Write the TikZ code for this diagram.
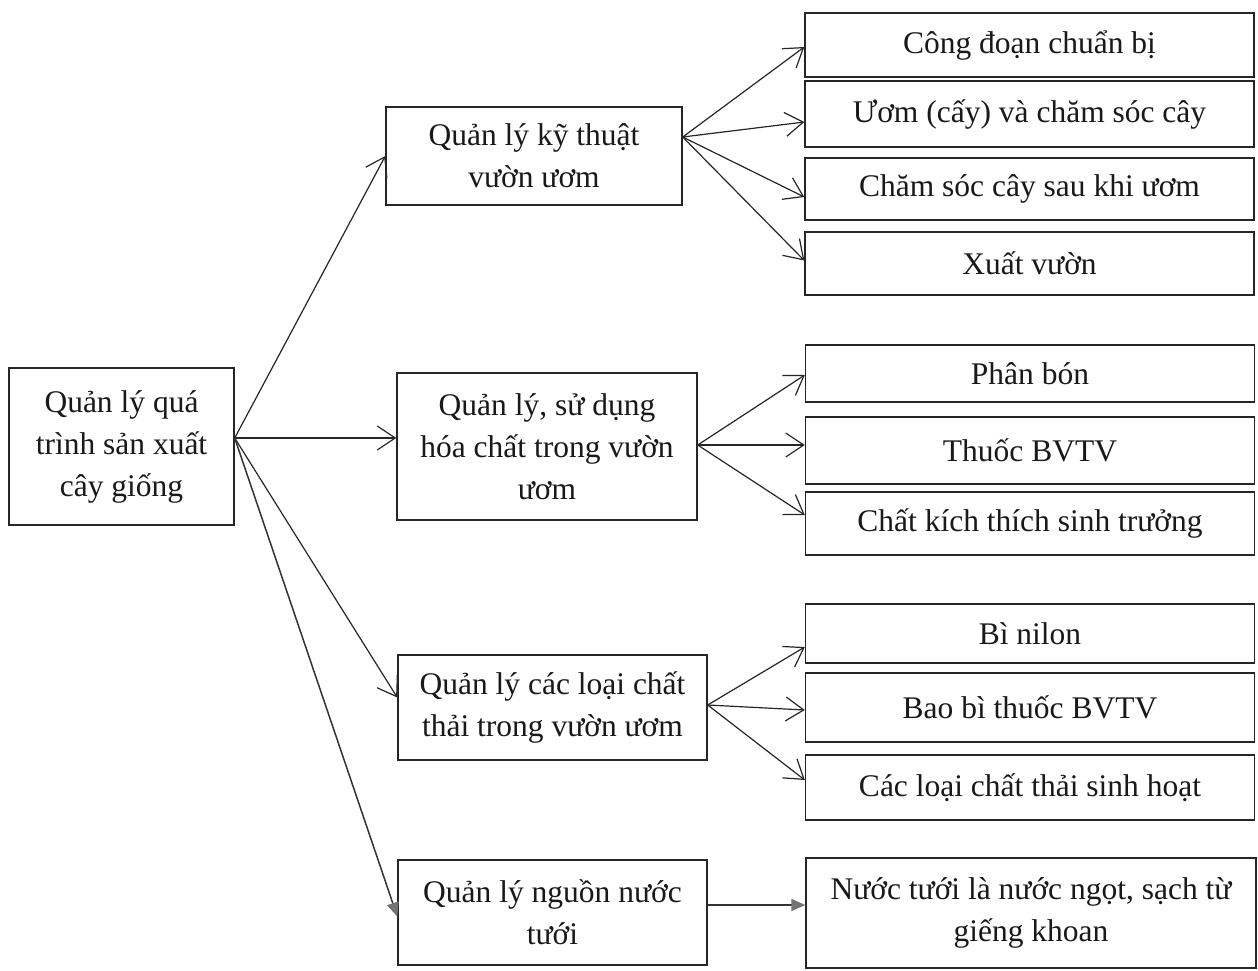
\documentclass[tikz,border=0pt]{standalone}
\usepackage{fontspec}
\setmainfont{Liberation Serif}
\usetikzlibrary{arrows.meta,calc}
\begin{document}
\begin{tikzpicture}[x=1pt,y=-1pt,
  box/.style={draw=black!85, line width=1.4pt, align=center, inner sep=0pt,
    font=\fontsize{31.5}{42}\selectfont, text=black!90},
  leaf/.style={box, minimum width=449pt},
  arr/.style={line width=1.2pt, draw=black!85,
    -{Straight Barb[length=18pt,width=24pt,line width=1.2pt]}},
  farr/.style={line width=1.5pt, draw=black!80,
    -{Triangle[length=14pt,width=12pt,color=black!55,fill=black!55]}}]
\path[use as bounding box, fill=white] (0,0) rectangle (1258,970);

% main nodes
\node[box, minimum width=225pt, minimum height=157pt] (root) at (121.5,446.5)
  {Quản lý quá\\trình sản xuất\\cây giống};
\node[box, minimum width=296pt, minimum height=98pt] (A) at (534,156)
  {Quản lý kỹ thuật\\vườn ươm};
\node[box, minimum width=300pt, minimum height=147pt] (B) at (547,446.5)
  {Quản lý, sử dụng\\hóa chất trong vườn\\ươm};
\node[box, minimum width=309pt, minimum height=105pt] (C) at (552.5,707.5)
  {Quản lý các loại chất\\thải trong vườn ươm};
\node[box, minimum width=309pt, minimum height=105pt] (D) at (552.5,912.5)
  {Quản lý nguồn nước\\tưới};

% leaves of A
\node[leaf, minimum height=64pt] (a1) at (1029.5,45) {Công đoạn chuẩn bị};
\node[leaf, minimum height=66pt] (a2) at (1029.5,114) {Ươm (cấy) và chăm sóc cây};
\node[leaf, minimum height=62pt] (a3) at (1029.5,189) {Chăm sóc cây sau khi ươm};
\node[leaf, minimum height=63pt] (a4) at (1029.5,263.5) {Xuất vườn};

% leaves of B
\node[leaf, minimum height=57pt] (b1) at (1030,373.5) {Phân bón};
\node[leaf, minimum height=67pt] (b2) at (1030,450.5) {Thuốc BVTV};
\node[leaf, minimum height=63pt] (b3) at (1030,523.5) {Chất kích thích sinh trưởng};

% leaves of C
\node[leaf, minimum height=59pt] (c1) at (1030,633.5) {Bì nilon};
\node[leaf, minimum height=69pt] (c2) at (1030,707.5) {Bao bì thuốc BVTV};
\node[leaf, minimum height=65pt] (c3) at (1030,787.5) {Các loại chất thải sinh hoạt};

% leaf of D
\node[leaf, minimum width=450pt, minimum height=110pt] (d1) at (1031,913)
  {Nước tưới là nước ngọt, sạch từ\\giếng khoan};

% connectors from root
\coordinate (rs) at ($(root.east)+(0,-8.5)$);
\draw[arr] (rs) -- (A.west);
\draw[arr] (rs) -- (rs -| B.west);
\draw[arr] (rs) -- ($(C.west)+(0,-10)$);
\draw[farr] (rs) -- ($(D.west)+(0,4)$);

% connectors from A
\coordinate (as) at ($(A.east)+(0,-19)$);
\draw[arr] (as) -- ($(a1.west)+(0,2)$);
\draw[arr] (as) -- ($(a2.west)+(0,8)$);
\draw[arr] (as) -- ($(a3.west)+(0,8)$);
\draw[arr] (as) -- ($(a4.west)+(0,-3)$);

% connectors from B
\coordinate (bs) at ($(B.east)+(0,-1.5)$);
\draw[arr] (bs) -- ($(b1.west)+(0,1.5)$);
\draw[arr] (bs) -- ($(b2.west)+(0,-5.5)$);
\draw[arr] (bs) -- ($(b3.west)+(0,-8.5)$);

% connectors from C
\coordinate (cs) at ($(C.east)+(0,-2.5)$);
\draw[arr] (cs) -- ($(c1.west)+(0,13.5)$);
\draw[arr] (cs) -- ($(c2.west)+(0,2.5)$);
\draw[arr] (cs) -- ($(c3.west)+(0,-7.5)$);

% connector from D
\coordinate (ds) at ($(D.east)+(0,-7.5)$);
\draw[farr] (ds) -- (ds -| d1.west);
\end{tikzpicture}
\end{document}
